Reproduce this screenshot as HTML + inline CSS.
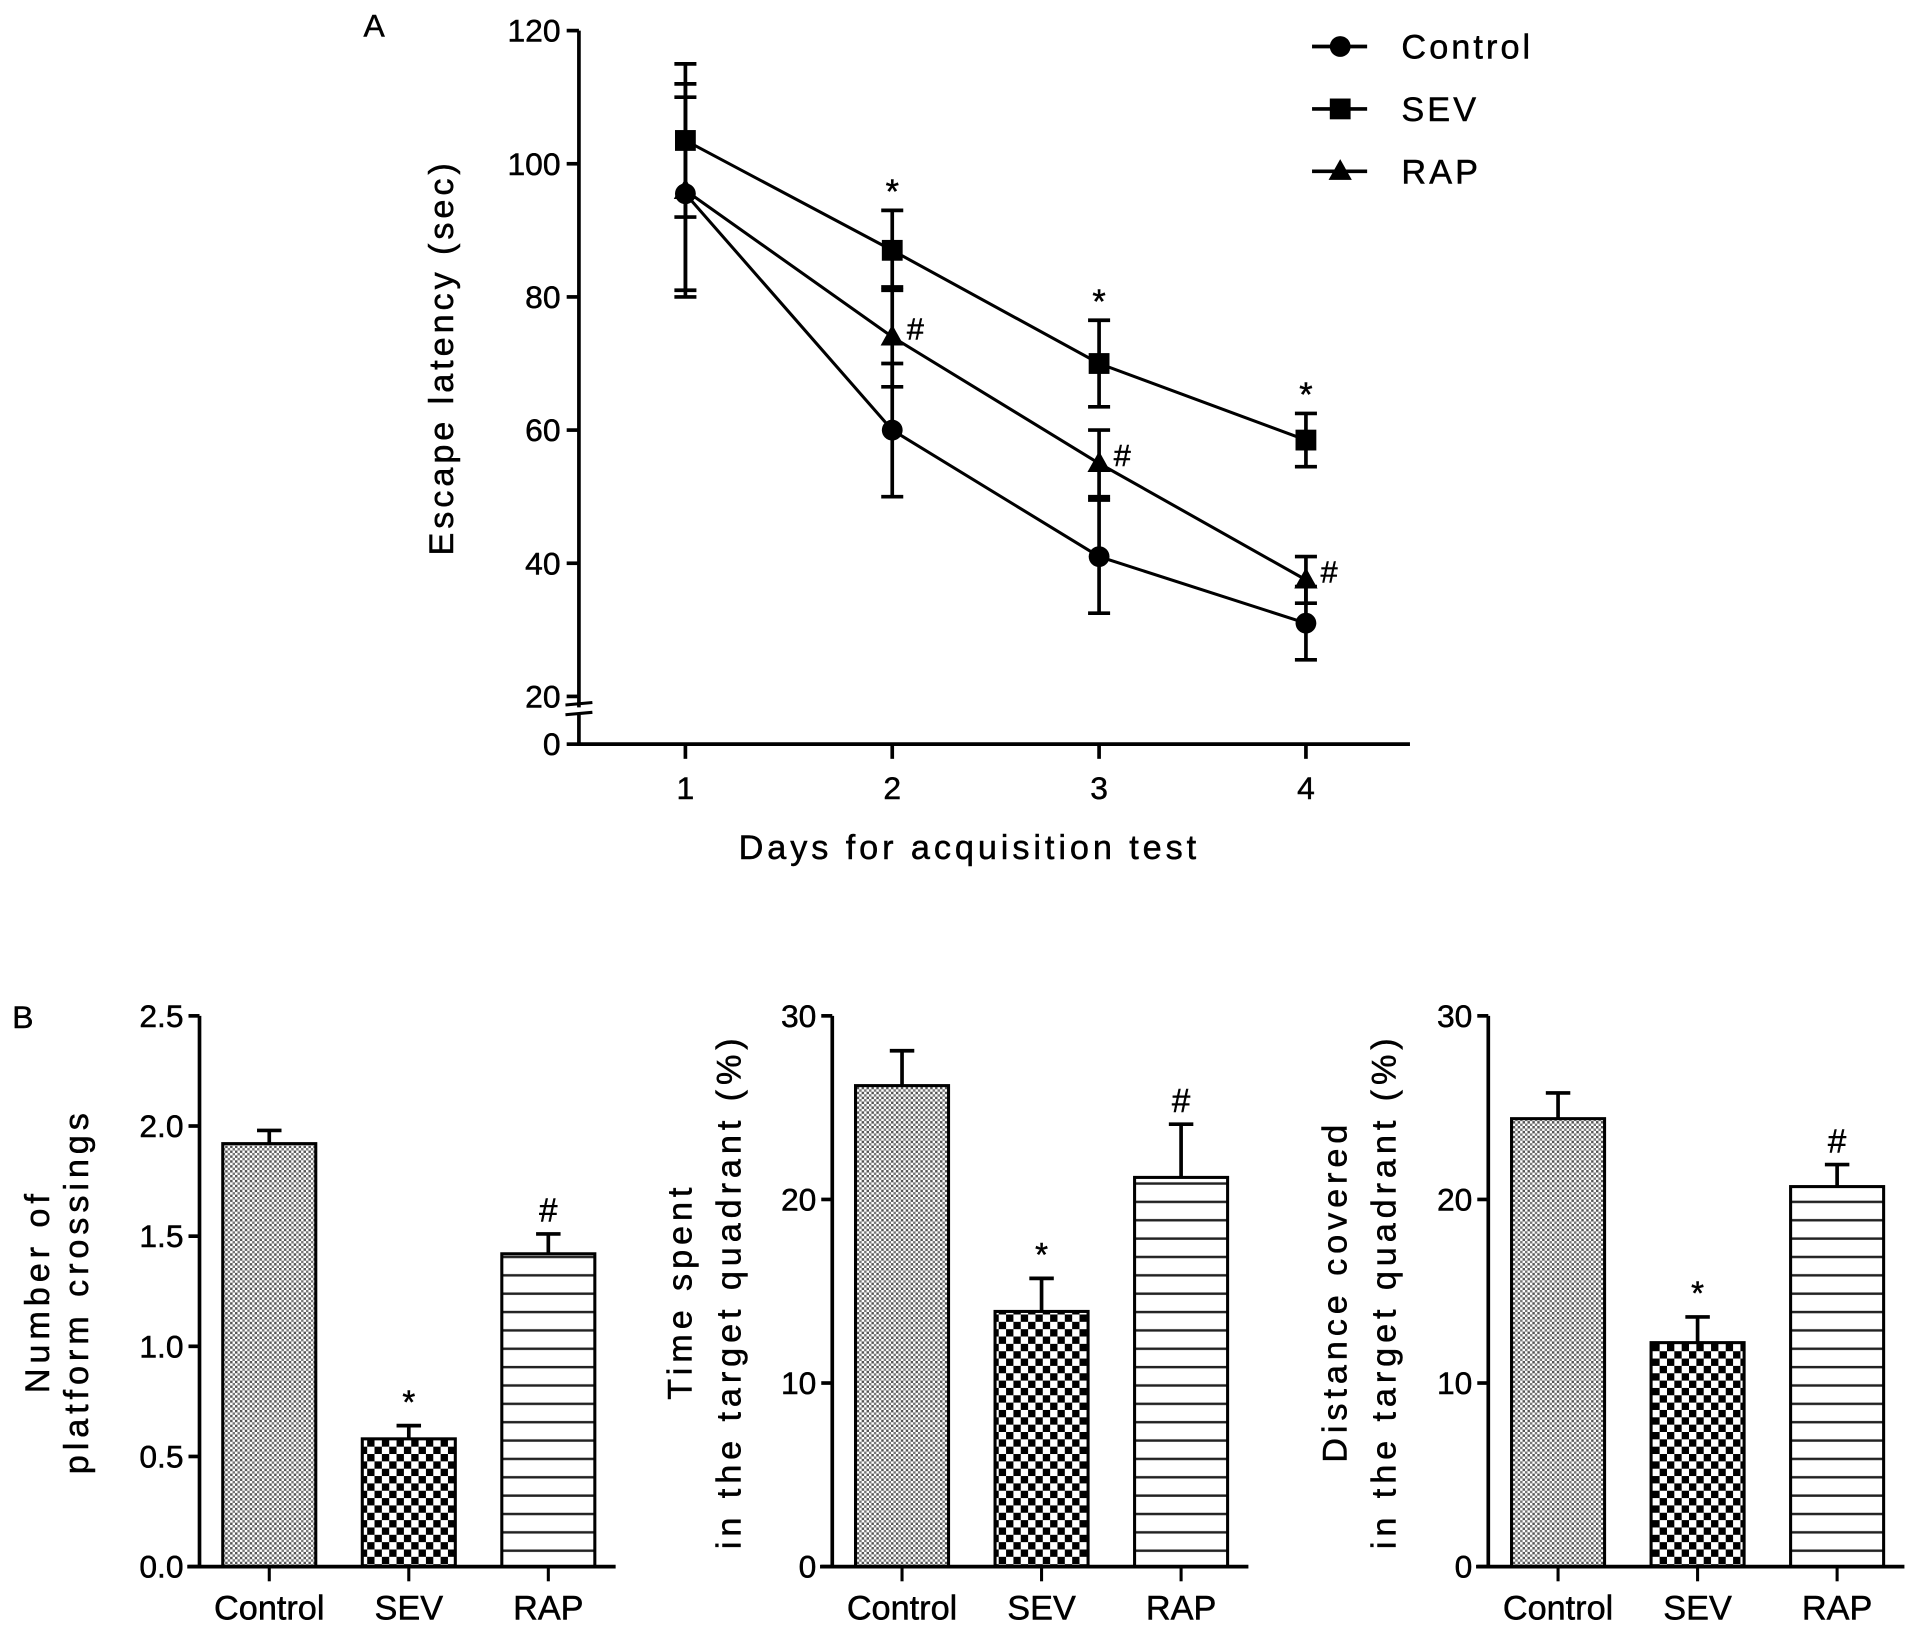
<!DOCTYPE html>
<html><head><meta charset="utf-8"><style>
html,body{margin:0;padding:0;background:#fff;}
svg{display:block;font-family:"Liberation Sans",sans-serif;}
text{stroke:#000;stroke-width:0.4;}
</style></head><body>
<svg id="fig" width="1913" height="1631" viewBox="0 0 1563 1332.6" xmlns="http://www.w3.org/2000/svg">
<defs>
<pattern id="pCtl" width="4" height="4" patternUnits="userSpaceOnUse"><rect width="4" height="4" fill="#fff"/><rect width="2" height="2" fill="#555"/><rect x="2" y="2" width="2" height="2" fill="#777"/></pattern>
<pattern id="pSev" width="12" height="12" patternUnits="userSpaceOnUse"><rect width="12" height="12" fill="#fff"/><rect width="6" height="6" fill="#000"/><rect x="6" y="6" width="6" height="6" fill="#000"/></pattern>
<pattern id="pRap" width="10" height="15" patternUnits="userSpaceOnUse"><rect width="10" height="15" fill="#fff"/><rect y="6" width="10" height="2" fill="#222"/></pattern>
</defs>
<g id="panelA"></g>
<g id="panelB"></g>
</svg>
<script>
// ---- Panel A data ----
const days = [1, 2, 3, 4];
const ctlMean = [95.5, 60, 41, 31];
const ctlErr = [14.5, 10, 8.5, 5.5];
const sevMean = [103.5, 87, 70, 58.5];
const sevErr = [11.5, 6, 6.5, 4];
const rapMean = [96, 74, 55, 37.5];
const rapErr = [16, 7.5, 5, 3.5];
const yTicksA = [20, 40, 60, 80, 100, 120];
const sevMarks = ["", "*", "*", "*"];
const rapMarks = ["", "#", "#", "#"];
// ---- Panel B data ----
const groups = ["Control", "SEV", "RAP"];
const crossMean = [1.92, 0.58, 1.42];
const crossErr = [0.06, 0.06, 0.09];
const crossTicks = ["0.0", "0.5", "1.0", "1.5", "2.0", "2.5"];
const timeMean = [26.2, 13.9, 21.2];
const timeErr = [1.9, 1.8, 2.9];
const timeTicks = ["0", "10", "20", "30"];
const distMean = [24.4, 12.2, 20.7];
const distErr = [1.4, 1.4, 1.2];
const distTicks = ["0", "10", "20", "30"];
const barMarks = ["", "*", "#"];

const NS = "http://www.w3.org/2000/svg";
function mk(parent, tag, attrs, text) {
  const e = document.createElementNS(NS, tag);
  for (const k in attrs) e.setAttribute(k, attrs[k]);
  if (text !== undefined) e.textContent = text;
  parent.appendChild(e);
  return e;
}
const A = document.getElementById('panelA');
const xA = d => 560 + (d - 1) * 169;
const yA = v => v >= 20 ? 25 + (120 - v) * 5.44 : 608 - v * 1.95;

let t = mk(A, 'text', {x: 297, y: 30, 'font-size': 26}, 'A');


let ax = mk(A, 'path', {d: 'M473,25 L473,578 M473,584 L473,608 L1152,608', stroke: '#000', 'stroke-width': 3, fill: 'none'});


mk(A, 'path', {d: 'M462,576 L484,574 M462,584 L484,582', stroke: '#000', 'stroke-width': 2.5, fill: 'none'});
yTicksA.forEach(v => {
  mk(A, 'line', {x1: 463, x2: 473, y1: yA(v), y2: yA(v), stroke: '#000', 'stroke-width': 3});
  const l = mk(A, 'text', {x: 458, y: yA(v) + 9, 'font-size': 26, 'text-anchor': 'end'}, String(v));
  
  
});
mk(A, 'line', {x1: 463, x2: 473, y1: 608, y2: 608, stroke: '#000', 'stroke-width': 3});
t = mk(A, 'text', {x: 458, y: 617, 'font-size': 26, 'text-anchor': 'end'}, '0');


days.forEach(d => {
  mk(A, 'line', {x1: xA(d), x2: xA(d), y1: 608, y2: 620, stroke: '#000', 'stroke-width': 3});
  const l = mk(A, 'text', {x: xA(d), y: 653, 'font-size': 26, 'text-anchor': 'middle'}, String(d));
  
  
});
t = mk(A, 'text', {x: 792, y: 702, 'font-size': 28, 'text-anchor': 'middle', 'letter-spacing': 3.2}, 'Days for acquisition test');


t = mk(A, 'text', {x: 0, y: 0, 'font-size': 28, 'text-anchor': 'middle', 'letter-spacing': 3.2, transform: 'translate(370,292) rotate(-90)'}, 'Escape latency (sec)');



function marker(g, type, x, y) {
  if (type === 'circle') return mk(g, 'circle', {cx: x, cy: y, r: 8.5, fill: '#000'});
  if (type === 'square') return mk(g, 'rect', {x: x - 8.5, y: y - 8.5, width: 17, height: 17, fill: '#000'});
  return mk(g, 'path', {d: `M${x},${y - 10} L${x + 9.5},${y + 7} L${x - 9.5},${y + 7} Z`, fill: '#000'});
}
function series(name, mean, err, type) {
  const g = mk(A, 'g', {});
  
  
  mk(g, 'polyline', {points: days.map((d, i) => xA(d) + ',' + yA(mean[i])).join(' '), fill: 'none', stroke: '#000', 'stroke-width': 2.5});
  days.forEach((d, i) => {
    const x = xA(d), y1 = yA(mean[i] + err[i]), y2 = yA(mean[i] - err[i]);
    mk(g, 'path', {d: `M${x},${y1} L${x},${y2} M${x - 9},${y1} L${x + 9},${y1} M${x - 9},${y2} L${x + 9},${y2}`, stroke: '#000', 'stroke-width': 3, fill: 'none'});
    const m = marker(g, type, x, yA(mean[i]));
    
    
  });
}
series('control', ctlMean, ctlErr, 'circle');
series('rap', rapMean, rapErr, 'tri');
series('sev', sevMean, sevErr, 'square');
days.forEach((d, i) => {
  if (sevMarks[i]) {
    const s = mk(A, 'text', {x: xA(d), y: yA(sevMean[i] + sevErr[i]) - 6, 'font-size': 28, 'text-anchor': 'middle'}, sevMarks[i]);
    
    
  }
  if (rapMarks[i]) {
    const s = mk(A, 'text', {x: xA(d) + 12, y: yA(rapMean[i]) + 2, 'font-size': 25}, rapMarks[i]);
    
    
  }
});
[['Control', 'circle', 38], ['SEV', 'square', 89], ['RAP', 'tri', 140]].forEach(([lab, type, y]) => {
  const g = mk(A, 'g', {});
  
  
  mk(g, 'line', {x1: 1072, x2: 1117, y1: y, y2: y, stroke: '#000', 'stroke-width': 3});
  marker(g, type, 1095, y);
  mk(g, 'text', {x: 1145, y: y + 10, 'font-size': 28, 'letter-spacing': 2.5}, lab);
});

// ---- Panel B ----
const B = document.getElementById('panelB');
t = mk(B, 'text', {x: 10, y: 840, 'font-size': 26}, 'B');


const fills = ['url(#pCtl)', 'url(#pSev)', 'url(#pRap)'];
function barChart(name, axisX, maxV, ticks, mean, err, titles, titleX) {
  const g = mk(B, 'g', {});
  
  
  const top = 830, bot = 1280;
  const yB = v => bot - v / maxV * (bot - top);
  const barX = i => axisX + 19 + i * 114;
  mean.forEach((m, i) => {
    const x = barX(i), y = yB(m), ye = yB(m + err[i]);
    mk(g, 'path', {d: `M${x + 38},${y} L${x + 38},${ye} M${x + 28},${ye} L${x + 48},${ye}`, stroke: '#000', 'stroke-width': 3, fill: 'none'});
    const r = mk(g, 'rect', {x: x, y: y, width: 76, height: bot - y, fill: fills[i], stroke: '#000', 'stroke-width': 2.5});
    
    
    mk(g, 'line', {x1: x + 38, x2: x + 38, y1: bot, y2: bot + 12, stroke: '#000', 'stroke-width': 2.5});
    const l = mk(g, 'text', {x: x + 38, y: bot + 43, 'font-size': 28, 'text-anchor': 'middle'}, groups[i]);
    
    
    if (barMarks[i]) {
      const s = mk(g, 'text', {x: x + 38, y: ye - 10, 'font-size': 27, 'text-anchor': 'middle'}, barMarks[i]);
      
      
    }
  });
  mk(g, 'path', {d: `M${axisX},${top} L${axisX},${bot} M${axisX - 10},${bot} L${axisX + 340},${bot}`, stroke: '#000', 'stroke-width': 3, fill: 'none'});
  ticks.forEach(tk => {
    const y = yB(parseFloat(tk));
    mk(g, 'line', {x1: axisX - 9, x2: axisX, y1: y, y2: y, stroke: '#000', 'stroke-width': 3});
    const l = mk(g, 'text', {x: axisX - 13, y: y + 9, 'font-size': 26, 'text-anchor': 'end'}, tk);
    
    
  });
  titles.forEach((tt, k) => {
    const l = mk(g, 'text', {x: 0, y: 0, 'font-size': 28, 'text-anchor': 'middle', 'letter-spacing': 4, transform: `translate(${titleX[k]},1055) rotate(-90)`}, tt);
    
    
  });
}
barChart('platform-crossings', 163, 2.5, crossTicks, crossMean, crossErr, ['Number of', 'platform crossings'], [40, 72]);
barChart('time-in-quadrant', 680, 30, timeTicks, timeMean, timeErr, ['Time spent', 'in the target quadrant (%)'], [565, 605]);
barChart('distance-in-quadrant', 1216, 30, distTicks, distMean, distErr, ['Distance covered', 'in the target quadrant (%)'], [1100, 1140]);
</script>
</body></html>
